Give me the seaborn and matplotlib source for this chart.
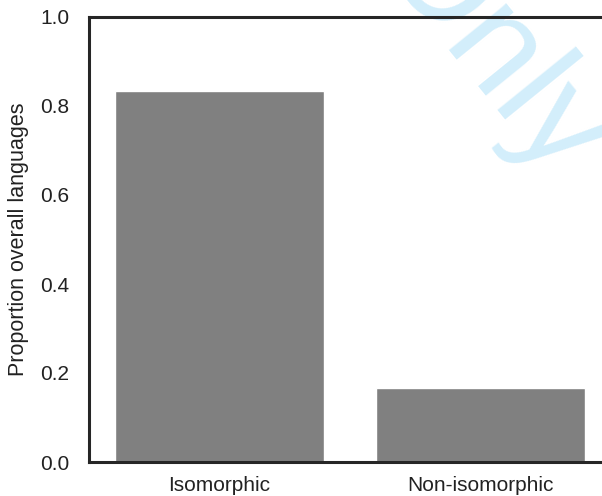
import matplotlib
matplotlib.use("Agg")
import matplotlib.pyplot as plt
import seaborn as sns
import pandas as pd

categories = ["Isomorphic", "Non-isomorphic"]
proportions = [0.833, 0.167]
yticks = [0.0, 0.2, 0.4, 0.6, 0.8, 1.0]

sns.set_style("white")
plt.rcParams["font.family"] = ["Liberation Sans", "DejaVu Sans"]

df = pd.DataFrame({"category": categories, "proportion": proportions})

fig = plt.figure(figsize=(6.02, 4.96), dpi=100)
ax = fig.add_axes([89 / 602, 34 / 496, 522 / 602, 445 / 496])
ax.set_facecolor("none")

sns.barplot(data=df, x="category", y="proportion", color="#808080",
            saturation=1, width=0.8, ax=ax)

ax.set_xlim(-0.5, 1.5)
ax.set_ylim(0, 1.0)
ax.set_yticks(yticks)
ax.set_yticklabels([f"{v:.1f}" for v in yticks])
ax.set_xlabel("")
ax.set_ylabel("Proportion overall languages", fontsize=15.5, color="#222222", labelpad=8)
ax.tick_params(axis="both", length=0, labelsize=15, colors="#222222")
ax.tick_params(axis="y", pad=14)
ax.tick_params(axis="x", pad=10)

for side in ["left", "bottom", "top"]:
    ax.spines[side].set_visible(True)
    ax.spines[side].set_linewidth(2.2)
    ax.spines[side].set_color("#262626")
ax.spines["right"].set_visible(False)

fig.text(490 / 602, 1 - 52 / 496, "Only", fontsize=100, color="#d3eefb",
         rotation=-51, ha="center", va="center", rotation_mode="anchor",
         zorder=-1)

fig.savefig("out.png", dpi=100)
